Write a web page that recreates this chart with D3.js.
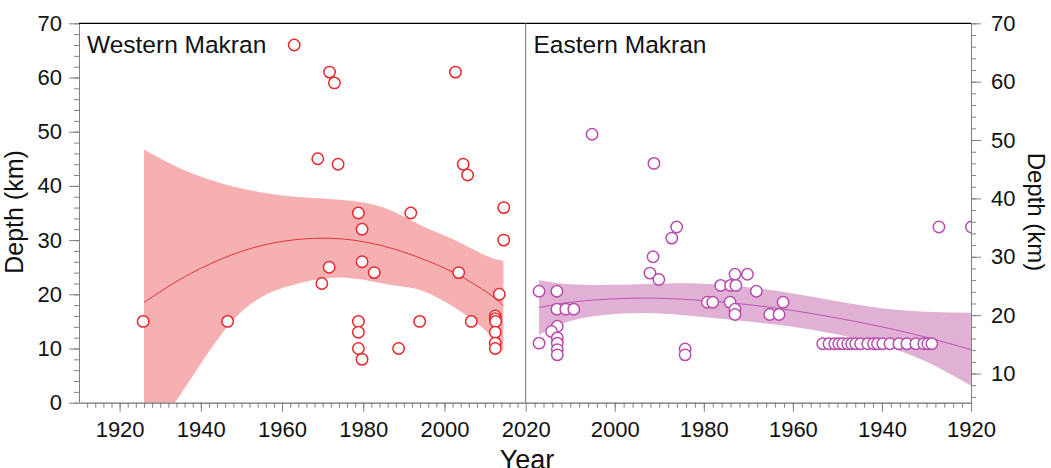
<!DOCTYPE html>
<html>
<head>
<meta charset="utf-8">
<script src="https://cdn.jsdelivr.net/npm/d3@7"></script>
<style>
  body { margin: 0; background: #fff; }
  svg { display: block; font-family: "Liberation Sans", Arial, sans-serif; }
  .axis path, .axis line { stroke: #808080; }
  .axis text { fill: #111; font-size: 22px; }
</style>
</head>
<body>
<svg id="chart" width="1051" height="468"></svg>
<script>
// ---- data ----
const westYears  = [1925.8, 1946.6, 1963.0, 1971.7, 1972.9, 1968.8, 1973.8, 2002.7, 2004.6, 2005.7,
                    1978.8, 1991.7, 1979.7, 2014.6, 2014.6, 1971.6, 1969.8, 1979.7, 1982.7, 2003.5,
                    2013.5, 1978.8, 1978.8, 1978.8, 1979.7, 1988.7, 1993.9, 2006.6,
                    2012.5, 2012.5, 2012.6, 2012.5, 2012.5, 2012.5]
const westDepths = [15, 15, 66, 61, 59, 45, 44, 61, 44, 42,
                    35, 35, 32, 36, 30, 25, 22, 26, 24, 24,
                    20, 15, 13, 10, 8, 10, 15, 15,
                    16, 15.5, 15, 13, 11, 10]

const eastYears  = [2005.1, 1991.2, 1986.1, 1987.2, 1991.4, 1992.1, 1990.1, 2017.0, 2013.0, 2013.0,
                    2011.0, 2009.2, 2012.9, 2014.2, 2012.9, 2012.9, 2012.9, 2012.9, 2017.0, 1984.2,
                    1984.2, 1970.2, 1973.0, 1976.2, 1974.0, 1972.8, 1968.2, 1979.2, 1978.0, 1974.1,
                    1973.0, 1973.0, 1962.2, 1965.2, 1963.1, 1927.2, 1919.9,
                    1953.3, 1951.9, 1950.6, 1949.7, 1948.8, 1947.7, 1946.8, 1945.9, 1944.8, 1943.2,
                    1941.9, 1941.0, 1939.8, 1938.2, 1936.2, 1934.4, 1932.4, 1930.6, 1929.7, 1928.8]
const eastDepths = [51, 46, 35.1, 33.2, 30, 27.2, 26.1, 24.1, 24.1, 21,
                    21, 21, 18.1, 17.2, 16.1, 15.2, 14.1, 13.2, 15.2, 14.2,
                    13.2, 27, 27, 25.1, 25.1, 25.1, 24.1, 22.2, 22.2, 22.2,
                    21, 20.1, 22.2, 20.1, 20.1, 35.1, 35.1,
                    15.1, 15.1, 15.1, 15.1, 15.1, 15.1, 15.1, 15.1, 15.1, 15.1,
                    15.1, 15.1, 15.1, 15.1, 15.1, 15.1, 15.1, 15.1, 15.1, 15.1]

// fitted trend and its confidence band
const westFitYears = [1926, 1935, 1945, 1955, 1965, 1975, 1985, 1994, 2002, 2010, 2014.5]
const westFit      = [18.5, 22.8, 26.5, 29.0, 30.2, 30.2, 28.9, 26.7, 24.1, 20.6, 17.9]
const westUpper    = [46.7, 43.2, 40.5, 38.8, 37.9, 37.4, 36.0, 32.8, 30.2, 27.2, 26.2]
const westLowerYears = [1926, 1930, 1933.6, 1940, 1948, 1956, 1964, 1975, 1987, 1994, 2002, 2010, 2014.5]
const westLower      = [-9.7, -4.0, 0, 7.2, 15.3, 19.9, 22.0, 23.1, 21.7, 20.8, 17.8, 13.4, 9.4]

const eastFitYears = [2017, 2010, 2000, 1990, 1980, 1970, 1960, 1950, 1940, 1930, 1920]
const eastFit      = [21.3, 22.2, 22.8, 22.9, 22.5, 21.8, 20.8, 19.5, 18.0, 16.2, 14.1]
const eastUpper    = [26.0, 25.3, 25.2, 25.4, 25.4, 24.8, 23.7, 22.4, 21.2, 20.6, 20.4]
const eastLower    = [16.6, 19.0, 20.2, 20.3, 19.7, 18.9, 18.0, 16.7, 14.9, 12.0, 7.9]

// tick labels
const westYearTicks  = [1920, 1940, 1960, 1980, 2000, 2020]
const eastYearTicks  = [2000, 1980, 1960, 1940, 1920]
const westDepthTicks = [0, 10, 20, 30, 40, 50, 60, 70]
const eastDepthTicks = [10, 20, 30, 40, 50, 60, 70]

// ---- layout ----
const svg = d3.select('#chart')
const L = 79, M = 525.7, R = 971, T = 23.3, B = 402.7

const xWest = d3.scaleLinear().domain([1910, 2020]).range([L, M])
const xEast = d3.scaleLinear().domain([2020, 1920]).range([M, R])
const yWest = d3.scaleLinear().domain([0, 70]).range([B, T])
const yEast = d3.scaleLinear().domain([5, 70]).range([B, T])

const defs = svg.append('defs')
defs.append('clipPath').attr('id', 'clipWest')
  .append('rect').attr('x', L).attr('y', T).attr('width', M - L).attr('height', B - T)
defs.append('clipPath').attr('id', 'clipEast')
  .append('rect').attr('x', M).attr('y', T).attr('width', R - M).attr('height', B - T)

drawPanel({
  clip: 'clipWest', x: xWest, y: yWest,
  bandYears: westFitYears, upper: westUpper,
  lowerYears: westLowerYears, lower: westLower,
  fit: westFit, years: westYears, depths: westDepths,
  band: '#f6b0b2', line: '#e03434', dot: '#e8262b'
})
drawPanel({
  clip: 'clipEast', x: xEast, y: yEast,
  bandYears: eastFitYears, upper: eastUpper,
  lowerYears: eastFitYears, lower: eastLower,
  fit: eastFit, years: eastYears, depths: eastDepths,
  band: '#e0b1d5', line: '#b457a8', dot: '#b94aad'
})

drawAxes()
drawLabels()

function drawPanel(p){
  const g = svg.append('g').attr('clip-path', `url(#${p.clip})`)

  // band: upper edge forward, lower edge back
  const upperPts = p.bandYears.map((yr, i) => [p.x(yr), p.y(p.upper[i])])
  const lowerPts = p.lowerYears.map((yr, i) => [p.x(yr), p.y(p.lower[i])])
  const upperPath = d3.line().curve(d3.curveNatural)(upperPts)
  const lowerPath = d3.line().curve(d3.curveNatural)(lowerPts.slice().reverse())
  g.append('path')
    .attr('d', upperPath + 'L' + lowerPath.slice(1) + 'Z')
    .attr('fill', p.band)

  const line = d3.line()
    .x((d, i) => p.x(p.bandYears[i]))
    .y(d => p.y(d))
    .curve(d3.curveNatural)
  g.append('path')
    .attr('d', line(p.fit))
    .attr('fill', 'none')
    .attr('stroke', p.line)
    .attr('stroke-width', 1)

  g.selectAll('circle.pt')
    .data(p.years)
    .join('circle')
      .attr('class', 'pt')
      .attr('cx', d => p.x(d))
      .attr('cy', (d, i) => p.y(p.depths[i]))
      .attr('r', 5.7)
      .attr('fill', '#fff')
      .attr('stroke', p.dot)
      .attr('stroke-width', 1.5)
}

function drawAxes(){
  // minor ticks first
  svg.append('g').attr('class', 'axis').attr('transform', `translate(${L},0)`)
    .call(d3.axisLeft(yWest).tickValues(d3.range(0, 71, 2)).tickSize(5).tickSizeOuter(0).tickFormat(''))
  svg.append('g').attr('class', 'axis').attr('transform', `translate(${L},0)`)
    .call(d3.axisLeft(yWest).tickValues(westDepthTicks).tickSize(10).tickSizeOuter(0).tickPadding(7))

  svg.append('g').attr('class', 'axis').attr('transform', `translate(${R},0)`)
    .call(d3.axisRight(yEast).tickValues(d3.range(6, 71, 2)).tickSize(5).tickSizeOuter(0).tickFormat(''))
  svg.append('g').attr('class', 'axis').attr('transform', `translate(${R},0)`)
    .call(d3.axisRight(yEast).tickValues(eastDepthTicks).tickSize(10).tickSizeOuter(0).tickPadding(10))

  svg.append('g').attr('class', 'axis').attr('transform', `translate(0,${B})`)
    .call(d3.axisBottom(xWest).tickValues(d3.range(1912, 2020, 2)).tickSize(5).tickSizeOuter(0).tickFormat(''))
  svg.append('g').attr('class', 'axis').attr('transform', `translate(0,${B})`)
    .call(d3.axisBottom(xWest).tickValues(westYearTicks).tickSize(9).tickSizeOuter(0).tickPadding(10).tickFormat(d3.format('d')))

  svg.append('g').attr('class', 'axis').attr('transform', `translate(0,${B})`)
    .call(d3.axisBottom(xEast).tickValues(d3.range(2018, 1920, -2)).tickSize(5).tickSizeOuter(0).tickFormat(''))
  svg.append('g').attr('class', 'axis').attr('transform', `translate(0,${B})`)
    .call(d3.axisBottom(xEast).tickValues(eastYearTicks).tickSize(9).tickSizeOuter(0).tickPadding(10).tickFormat(d3.format('d')))

  // frame: black top, grey divider
  svg.append('line')
    .attr('x1', L).attr('x2', R).attr('y1', T).attr('y2', T)
    .attr('stroke', '#000').attr('stroke-width', 1.2)
  svg.append('line')
    .attr('x1', M).attr('x2', M).attr('y1', T).attr('y2', B)
    .attr('stroke', '#707070').attr('stroke-width', 1)
}

function drawLabels(){
  svg.append('text').text('Western Makran')
    .attr('x', 87).attr('y', 53).attr('font-size', 24.5).attr('fill', '#111')
  svg.append('text').text('Eastern Makran')
    .attr('x', 533.5).attr('y', 53).attr('font-size', 24.5).attr('fill', '#111')

  svg.append('text').text('Year')
    .attr('x', 527).attr('y', 469).attr('text-anchor', 'middle')
    .attr('font-size', 27).attr('fill', '#111')

  svg.append('text').text('Depth (km)')
    .attr('transform', 'translate(23,212) rotate(-90)')
    .attr('text-anchor', 'middle').attr('font-size', 25).attr('fill', '#111')
  svg.append('text').text('Depth (km)')
    .attr('transform', 'translate(1028,212) rotate(90)')
    .attr('text-anchor', 'middle').attr('font-size', 24).attr('fill', '#111')
}
</script>
</body>
</html>
